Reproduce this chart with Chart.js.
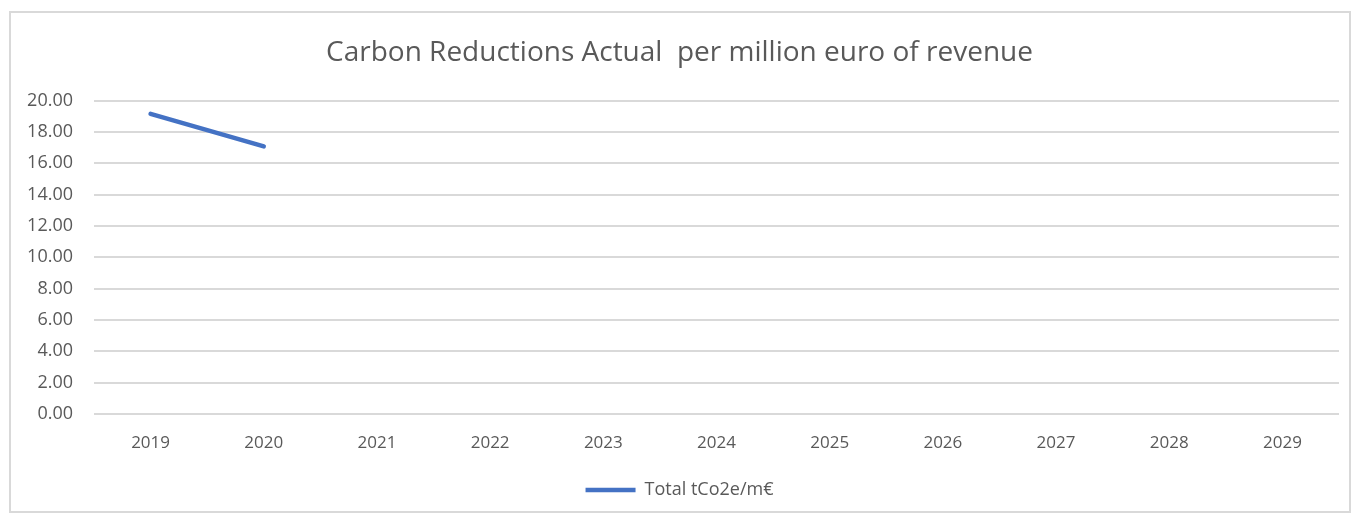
<!DOCTYPE html>
<html>
<head>
<meta charset="utf-8">
<script src="https://cdn.jsdelivr.net/npm/chart.js@4"></script>
<style>
  html, body { margin: 0; padding: 0; background: #fff; }
  .wrap { position: relative; width: 1355px; height: 516px; }
  .frame {
    position: absolute; left: 9px; top: 11px; width: 1342px; height: 502px;
    border: 2px solid #d9d9d9; box-sizing: border-box; pointer-events: none;
  }
  canvas { position: absolute; left: 0; top: 0; }
</style>
</head>
<body>
<div class="wrap">
  <canvas id="chart" width="1355" height="516"></canvas>
  <div class="frame"></div>
</div>
<script>
const years = ["2019", "2020", "2021", "2022", "2023", "2024", "2025", "2026", "2027", "2028", "2029"];
const totalPerMillion = [19.15, 17.08, null, null, null, null, null, null, null, null, null];
const seriesLabel = "Total tCo2e/m\u20ac";
const chartTitle = "Carbon Reductions Actual  per million euro of revenue";

const textColor = "#595959";
const gridColor = "#d9d9d9";
const lineColor = "#4472c4";
const fontFamily = "'Open Sans', sans-serif";

new Chart(document.getElementById("chart"), {
  type: "line",
  data: {
    labels: years,
    datasets: [
      {
        label: seriesLabel,
        data: totalPerMillion,
        borderColor: lineColor,
        backgroundColor: lineColor,
        borderWidth: 4.5,
        borderCapStyle: "round",
        pointRadius: 0,
        pointHoverRadius: 0,
        spanGaps: false,
        tension: 0,
      },
    ],
  },
  options: {
    responsive: false,
    animation: false,
    layout: { padding: { left: 20, right: 16, top: 0, bottom: 7 } },
    plugins: {
      title: {
        display: true,
        text: chartTitle,
        color: textColor,
        font: { family: fontFamily, size: 28, weight: "normal", lineHeight: 1.2 },
        padding: { top: 36, bottom: 31 },
      },
      legend: {
        position: "bottom",
        labels: {
          color: textColor,
          font: { family: fontFamily, size: 18 },
          usePointStyle: true,
          pointStyle: "line",
          pointStyleWidth: 50,
          boxHeight: 18,
          padding: 10,
        },
      },
      tooltip: { enabled: false },
    },
    scales: {
      x: {
        offset: true,
        grid: { display: false },
        border: { display: false },
        ticks: {
          color: textColor,
          font: { family: fontFamily, size: 17 },
          padding: 11,
          maxRotation: 0,
        },
        afterFit: (scale) => { scale.height = 57; },
      },
      y: {
        min: 0,
        max: 20,
        grid: { color: gridColor, lineWidth: 2, drawTicks: false },
        border: { display: false },
        ticks: {
          stepSize: 2,
          color: textColor,
          font: { family: fontFamily, size: 18 },
          padding: 21,
          callback: (v) => Number(v).toFixed(2),
        },
        afterFit: (scale) => { scale.width = 74; },
      },
    },
  },
});
</script>
</body>
</html>
